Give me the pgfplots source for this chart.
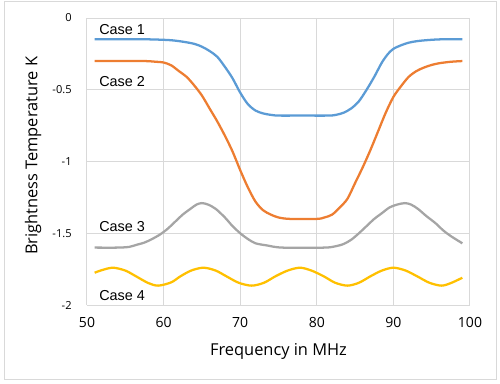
\documentclass[border=0pt]{standalone}
\usepackage{pgfplots}
\pgfplotsset{compat=1.18}
\usepackage{fontspec}
\setmainfont{Open Sans}
\newfontfamily\arialf{Liberation Sans}
\definecolor{c1}{HTML}{5B9BD5}
\definecolor{c2}{HTML}{ED7D31}
\definecolor{c3}{HTML}{A5A5A5}
\definecolor{c4}{HTML}{FFC000}
\definecolor{gridc}{HTML}{D9D9D9}
\begin{document}
\begin{tikzpicture}
\begin{axis}[
  at={(0,0)}, anchor=south west,
  scale only axis, width=287.25pt, height=215.25pt,
  xmin=50, xmax=100, ymin=-2, ymax=0,
  xtick={50,60,70,80,90,100},
  ytick={-2,-1.5,-1,-0.5,0},
  grid=major,
  major grid style={draw=gridc, line width=0.75pt},
  axis line style={draw=none},
  tick style={draw=none},
  /pgf/number format/assume math mode=true,
  xticklabel style={font=\fontsize{10.5}{12}\selectfont, yshift=-6pt},
  yticklabel style={font=\fontsize{8.3}{10}\selectfont, xshift=-8pt},
  xlabel={Frequency in MHz},
  ylabel={Brightness Temperature K},
  xlabel style={font=\fontsize{12.3}{14}\selectfont, at={(axis description cs:0.5,0)}, anchor=center, yshift=-35pt},
  ylabel style={font=\fontsize{12.3}{14}\selectfont, at={(axis description cs:0,0.52)}, anchor=center, yshift=40.5pt},
  every axis plot/.append style={line width=1.7pt, smooth, no markers},
  clip=false,
]
\addplot[c1] coordinates {
(51,-0.148) (54,-0.148) (57,-0.148) (59,-0.150) (61,-0.155) (62.5,-0.165) (64,-0.18) (65,-0.20) (66,-0.23) (67,-0.27) (68,-0.34) (69,-0.42) (70,-0.52) (71,-0.60) (72,-0.645) (73,-0.665) (74,-0.675) (75,-0.68) (78,-0.68) (81.5,-0.68) (82.5,-0.675) (83.5,-0.66) (84.5,-0.63) (85.5,-0.58) (86.5,-0.50) (87.5,-0.41) (88.5,-0.31) (89.3,-0.25) (90,-0.215) (91,-0.19) (92,-0.172) (93,-0.162) (94,-0.156) (96,-0.149) (99,-0.148)
};
\addplot[c2] coordinates {
(51,-0.30) (54,-0.30) (57.5,-0.30) (59,-0.305) (60,-0.31) (61,-0.33) (62,-0.37) (63,-0.41) (64,-0.47) (65,-0.54) (66,-0.63) (67,-0.72) (68,-0.82) (69,-0.93) (70,-1.06) (71,-1.18) (72,-1.28) (73,-1.34) (74,-1.37) (75,-1.39) (76.5,-1.40) (80,-1.40) (81,-1.39) (82,-1.37) (83,-1.32) (84,-1.26) (85,-1.15) (86,-1.04) (87,-0.92) (88,-0.79) (89,-0.66) (90,-0.55) (91,-0.475) (92,-0.41) (93,-0.37) (94,-0.345) (95,-0.327) (96,-0.315) (97.5,-0.305) (99,-0.30)
};
\addplot[c3] coordinates {
(51,-1.60) (54,-1.60) (55.5,-1.595) (56.5,-1.58) (57.5,-1.565) (58.5,-1.54) (59.5,-1.51) (60.5,-1.47) (61.5,-1.42) (62.5,-1.37) (63.5,-1.33) (64.3,-1.30) (65,-1.29) (65.8,-1.30) (66.8,-1.33) (68,-1.39) (69,-1.45) (70,-1.50) (71,-1.54) (72,-1.57) (73.5,-1.585) (75.5,-1.60) (81,-1.60) (82.5,-1.59) (83.5,-1.575) (84.5,-1.545) (85.5,-1.50) (86.5,-1.45) (87.5,-1.40) (88.5,-1.36) (89.5,-1.32) (90.5,-1.30) (91.5,-1.29) (92.3,-1.30) (93.2,-1.33) (94.3,-1.38) (95.5,-1.43) (96.5,-1.48) (97.5,-1.52) (99,-1.57)
};
\addplot[c4] coordinates {
(51,-1.775) (52,-1.756) (53.4,-1.74) (55,-1.76) (56.4,-1.80) (58,-1.847) (59.3,-1.865) (61,-1.842) (62.2,-1.80) (63.6,-1.76) (65.2,-1.74) (66.8,-1.76) (68.2,-1.80) (69.8,-1.845) (71.5,-1.865) (73.1,-1.845) (74.6,-1.80) (76.2,-1.76) (77.8,-1.74) (79.3,-1.76) (80.9,-1.80) (82.4,-1.845) (84,-1.865) (85.5,-1.845) (87,-1.80) (88.5,-1.76) (90,-1.74) (91.6,-1.76) (93.1,-1.80) (94.7,-1.845) (96.3,-1.865) (97.6,-1.845) (99,-1.81)
};
\node[anchor=west, inner sep=0pt, font=\arialf\fontsize{10.8}{12}\selectfont] at (axis cs:51.57,-0.077) {Case 1};
\node[anchor=west, inner sep=0pt, font=\arialf\fontsize{10.8}{12}\selectfont] at (axis cs:51.57,-0.444) {Case 2};
\node[anchor=west, inner sep=0pt, font=\arialf\fontsize{10.8}{12}\selectfont] at (axis cs:51.57,-1.454) {Case 3};
\node[anchor=west, inner sep=0pt, font=\arialf\fontsize{10.8}{12}\selectfont] at (axis cs:51.57,-1.937) {Case 4};
\end{axis}
\draw[gridc, line width=0.75pt] (-61.5pt,-55.5pt) rectangle (306.75pt,227.25pt);
\pgfresetboundingbox
\useasboundingbox (-65.25pt,-58.5pt) rectangle (309.75pt,228.75pt);
\end{tikzpicture}
\end{document}
